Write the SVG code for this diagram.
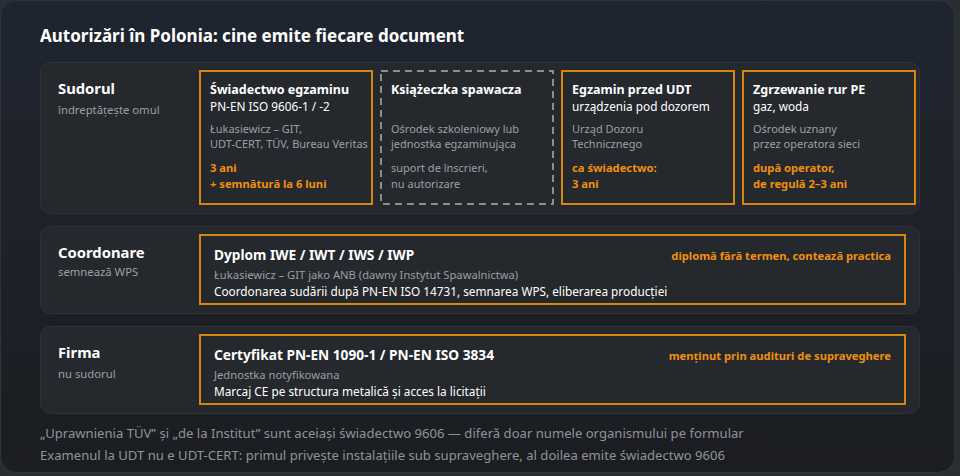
<svg xmlns="http://www.w3.org/2000/svg" width="960" height="476" viewBox="0 0 960 476">
<defs>
<linearGradient id="bg" x1="0" y1="0" x2="0" y2="1">
<stop offset="0" stop-color="#1f2530"/>
<stop offset="1" stop-color="#1b1d21"/>
</linearGradient>
<style>
text{font-family:"Noto Sans","Open Sans","DejaVu Sans",sans-serif}
.title{font-size:17px;font-weight:700;fill:#ffffff}
.rowt{font-size:14.8px;font-weight:700;fill:#ffffff}
.rows{font-size:11.3px;fill:#9aa0a6}
.ct{font-size:12.5px;font-weight:700;fill:#ffffff}
.cs{font-size:11.8px;fill:#ffffff}
.cg{font-size:11px;fill:#9aa0a6}
.cgw{font-size:11.2px;fill:#9aa0a6}
.co{font-size:11.2px;font-weight:700;fill:#f0900c}
.wt{font-size:13.7px;font-weight:700;fill:#ffffff}
.foot{font-size:13.1px;fill:#8e949a}
.row{fill:#25282c;stroke:#2f3338;stroke-width:1}
.card{fill:#25282c;stroke:#d4860e;stroke-width:2}
.dash{fill:#25282c;stroke:#8a8d91;stroke-width:2;stroke-dasharray:7 5}
</style>
</defs>
<rect x="0" y="0" width="960" height="476" fill="#2a2d31"/>
<rect x="0.5" y="0.5" width="954" height="472" rx="16" fill="url(#bg)" stroke="#30343a"/>
<text class="title" x="40" y="42">Autorizări în Polonia: cine emite fiecare document</text>

<g id="row-sudorul">
<rect class="row" x="40.5" y="62.5" width="879" height="151" rx="10"/>
<text class="rowt" x="58" y="94">Sudorul</text>
<text class="rows" x="58" y="114">îndreptățește omul</text>
</g>
<g id="card-swiadectwo">
<rect class="card" x="200" y="71" width="172" height="133"/>
<text class="ct" x="210" y="94">Świadectwo egzaminu</text>
<text class="cs" x="210" y="111">PN-EN ISO 9606-1 / -2</text>
<text class="cg" x="210" y="133">Łukasiewicz – GIT,</text>
<text class="cg" x="210" y="148">UDT-CERT, TÜV, Bureau Veritas</text>
<text class="co" x="210" y="172">3 ani</text>
<text class="co" x="210" y="188">+ semnătură la 6 luni</text>
</g>
<g id="card-ksiazeczka">
<rect class="dash" x="381" y="71" width="172" height="133"/>
<text class="ct" x="391" y="94">Książeczka spawacza</text>
<text class="cg" x="391" y="133">Ośrodek szkoleniowy lub</text>
<text class="cg" x="391" y="148">jednostka egzaminująca</text>
<text class="cg" x="391" y="172">suport de înscrieri,</text>
<text class="cg" x="391" y="188">nu autorizare</text>
</g>
<g id="card-udt">
<rect class="card" x="562" y="71" width="172" height="133"/>
<text class="ct" x="572" y="94">Egzamin przed UDT</text>
<text class="cs" x="572" y="111">urządzenia pod dozorem</text>
<text class="cg" x="572" y="133">Urząd Dozoru</text>
<text class="cg" x="572" y="148">Technicznego</text>
<text class="co" x="572" y="172">ca świadectwo:</text>
<text class="co" x="572" y="188">3 ani</text>
</g>
<g id="card-pe">
<rect class="card" x="743" y="71" width="172" height="133"/>
<text class="ct" x="753" y="94">Zgrzewanie rur PE</text>
<text class="cs" x="753" y="111">gaz, woda</text>
<text class="cg" x="753" y="133">Ośrodek uznany</text>
<text class="cg" x="753" y="148">przez operatora sieci</text>
<text class="co" x="753" y="172">după operator,</text>
<text class="co" x="753" y="188">de regulă 2–3 ani</text>
</g>

<g id="row-coordonare">
<rect class="row" x="40.5" y="226.5" width="879" height="87" rx="10"/>
<text class="rowt" x="58" y="258">Coordonare</text>
<text class="rows" x="58" y="276">semnează WPS</text>
</g>
<g id="card-dyplom">
<rect class="card" x="200" y="235" width="705" height="69"/>
<text class="wt" x="214" y="260">Dyplom IWE / IWT / IWS / IWP</text>
<text class="co" x="891" y="260" text-anchor="end">diplomă fără termen, contează practica</text>
<text class="cgw" x="214" y="279">Łukasiewicz – GIT jako ANB (dawny Instytut Spawalnictwa)</text>
<text class="cs" x="214" y="296">Coordonarea sudării după PN-EN ISO 14731, semnarea WPS, eliberarea producției</text>
</g>

<g id="row-firma">
<rect class="row" x="40.5" y="326.5" width="879" height="87" rx="10"/>
<text class="rowt" x="58" y="358">Firma</text>
<text class="rows" x="58" y="378">nu sudorul</text>
</g>
<g id="card-certyfikat">
<rect class="card" x="200" y="335" width="705" height="69"/>
<text class="wt" x="214" y="360">Certyfikat PN-EN 1090-1 / PN-EN ISO 3834</text>
<text class="co" x="891" y="360" text-anchor="end">menținut prin audituri de supraveghere</text>
<text class="cgw" x="214" y="379">Jednostka notyfikowana</text>
<text class="cs" x="214" y="396">Marcaj CE pe structura metalică și acces la licitații</text>
</g>

<g id="connectors"></g>

<text class="foot" x="40" y="438">„Uprawnienia TÜV” și „de la Institut” sunt aceiași świadectwo 9606 — diferă doar numele organismului pe formular</text>
<text class="foot" x="40" y="460">Examenul la UDT nu e UDT-CERT: primul privește instalațiile sub supraveghere, al doilea emite świadectwo 9606</text>
</svg>
